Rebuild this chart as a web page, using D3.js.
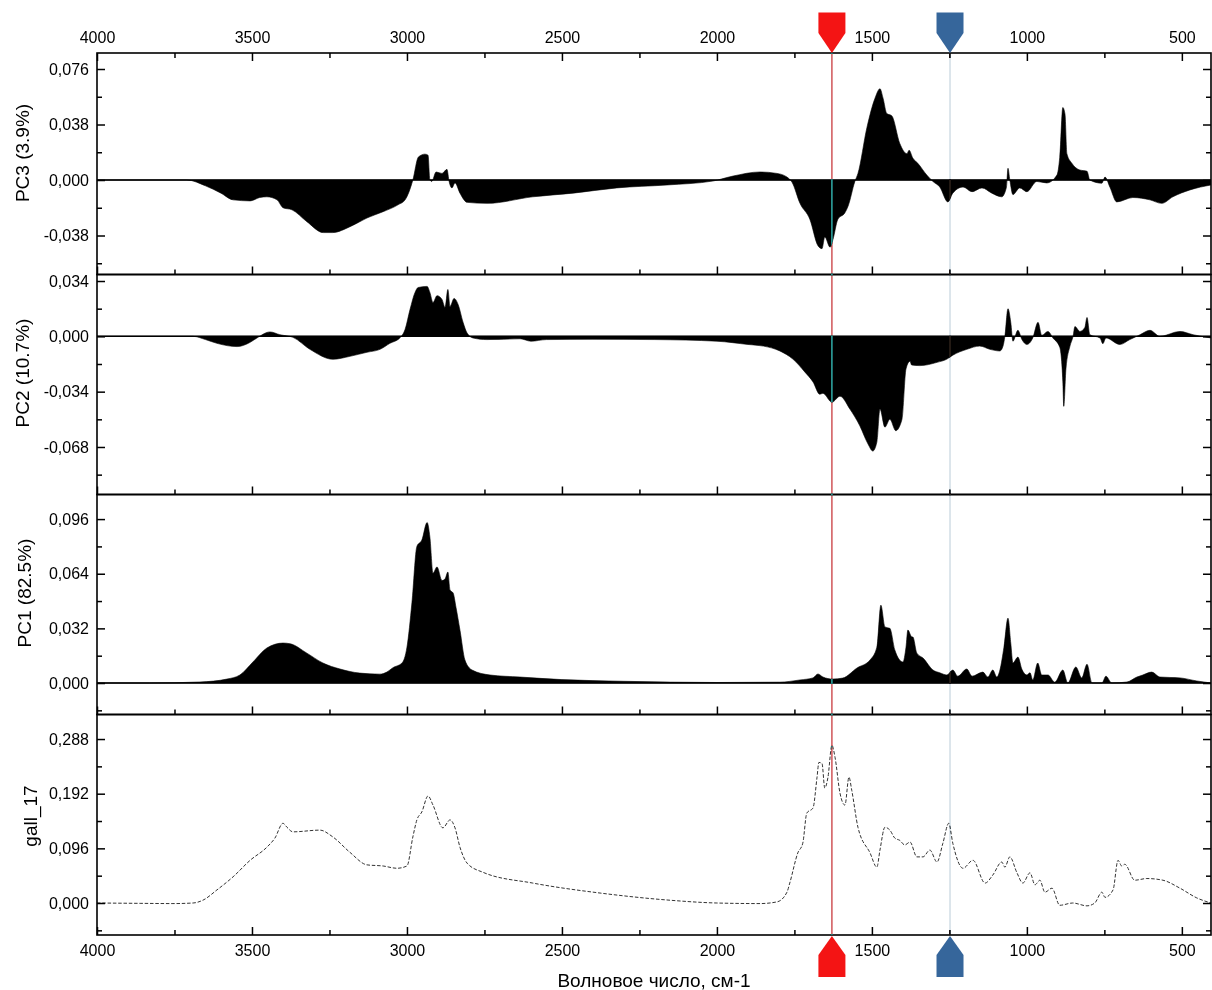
<!DOCTYPE html>
<html><head><meta charset="utf-8">
<script src="https://cdn.jsdelivr.net/npm/d3@7"></script>
<style>
html,body{margin:0;padding:0;background:#fff;}
svg{display:block;font-family:Arial,"Liberation Sans",sans-serif;isolation:isolate;}
</style></head><body>
<svg id="chart" width="1212" height="990"></svg>
<script>
// ---------------- data ----------------
const xTicksMajor = [4000,3500,3000,2500,2000,1500,1000,500];
const xTicksMinor = [3750,3250,2750,2250,1750,1250,750];
const xTitle = "Волновое число, см-1";

const pc3Label = "PC3 (3.9%)";
const pc3Ticks = [-0.038, 0, 0.038, 0.076];
const pc3Minor = [-0.057, -0.019, 0.019, 0.057];
const pc3 = [[4000,0],[3710,0],[3650,-0.004],[3600,-0.009],[3561,-0.0136],[3506,-0.0143],[3475,-0.012],[3452,-0.0115],[3419,-0.0136],[3400,-0.019],[3371,-0.0204],[3323,-0.0285],[3270,-0.036],[3239,-0.036],[3184,-0.032],[3129,-0.026],[3077,-0.0217],[3029,-0.017],[3006,-0.0136],[2981,0],[2963,0.0158],[2942,0.0177],[2932,0.017],[2926,0],[2920,-0.001],[2906,0.0055],[2887,0.0045],[2871,0.0073],[2864,-0.001],[2855,-0.0054],[2845,-0.002],[2829,-0.009],[2806,-0.0153],[2742,-0.016],[2594,-0.0115],[2464,-0.009],[2323,-0.0054],[2161,-0.0034],[2013,-0.0007],[1948,0.0027],[1861,0.0055],[1806,0.0045],[1774,0.002],[1758,-0.0014],[1732,-0.016],[1700,-0.027],[1674,-0.045],[1661,-0.047],[1652,-0.039],[1635,-0.046],[1626,-0.041],[1610,-0.027],[1587,-0.0224],[1577,-0.018],[1555,-0.001],[1545,0.0045],[1516,0.036],[1490,0.056],[1474,0.0625],[1464,0.056],[1452,0.0455],[1436,0.044],[1410,0.025],[1387,0.018],[1380,0.0204],[1368,0.015],[1352,0.0115],[1323,0.0034],[1303,-0.001],[1281,-0.0048],[1255,-0.015],[1239,-0.009],[1206,-0.0048],[1177,-0.008],[1145,-0.0054],[1113,-0.009],[1081,-0.0115],[1066,-0.005],[1061,0.008],[1055,0],[1045,-0.01],[1023,-0.0054],[1000,-0.008],[968,-0.001],[936,-0.002],[903,0.0034],[894,0.0156],[884,0.0496],[877,0.045],[871,0.018],[855,0.0115],[829,0.0068],[806,0.006],[797,0],[758,-0.0022],[748,0.002],[732,-0.005],[710,-0.015],[658,-0.012],[603,-0.0136],[565,-0.016],[529,-0.0115],[474,-0.0068],[406,-0.0034]];

const pc2Label = "PC2 (10.7%)";
const pc2Ticks = [-0.068, -0.034, 0, 0.034];
const pc2Minor = [-0.085, -0.051, -0.017, 0.017];
const pc2 = [[4000,0],[3690,0],[3650,-0.002],[3613,-0.0043],[3548,-0.0063],[3506,-0.0037],[3484,-0.001],[3442,0.0027],[3410,0.001],[3368,-0.0006],[3313,-0.008],[3239,-0.0141],[3184,-0.0123],[3129,-0.0098],[3087,-0.008],[3055,-0.0043],[3023,-0.001],[3006,0.0043],[2990,0.0166],[2974,0.027],[2964,0.030],[2935,0.0307],[2926,0.027],[2916,0.0208],[2903,0.025],[2887,0.0227],[2877,0.0178],[2868,0.0288],[2861,0.0184],[2848,0.0233],[2835,0.0196],[2819,0.0086],[2806,0.002],[2787,-0.001],[2742,-0.002],[2635,-0.0015],[2600,-0.003],[2550,-0.002],[2400,-0.0018],[2200,-0.002],[2000,-0.003],[1900,-0.005],[1850,-0.006],[1797,-0.009],[1755,-0.014],[1716,-0.022],[1690,-0.028],[1668,-0.0356],[1658,-0.035],[1629,-0.0405],[1603,-0.0368],[1571,-0.0447],[1539,-0.055],[1513,-0.066],[1497,-0.0705],[1484,-0.065],[1474,-0.0447],[1458,-0.0558],[1442,-0.051],[1423,-0.058],[1403,-0.051],[1390,-0.020],[1377,-0.0153],[1372,-0.0176],[1345,-0.018],[1290,-0.016],[1258,-0.014],[1239,-0.0116],[1194,-0.008],[1152,-0.006],[1119,-0.008],[1087,-0.009],[1077,-0.006],[1071,0],[1061,0.017],[1052,0.0086],[1045,-0.003],[1029,0.0037],[1016,-0.002],[1000,-0.005],[981,-0.001],[964,0.0086],[952,0.0006],[932,0.003],[916,-0.001],[894,-0.0067],[884,-0.028],[881,-0.043],[874,-0.02],[861,-0.006],[851,0],[845,0.006],[829,0.003],[813,0.0055],[806,0.0116],[797,0.001],[764,-0.001],[755,-0.0045],[745,-0.001],[700,-0.005],[668,-0.002],[635,0.001],[603,0.0037],[571,0],[506,0.003],[464,0.001],[406,-0.001]];

const pc1Label = "PC1 (82.5%)";
const pc1Ticks = [0, 0.032, 0.064, 0.096];
const pc1Minor = [-0.016, 0.016, 0.048, 0.080];
const pc1 = [[4000,0],[3830,0],[3668,0.0006],[3581,0.0023],[3539,0.0047],[3497,0.0123],[3452,0.0205],[3400,0.0234],[3377,0.023],[3323,0.0175],[3271,0.0117],[3216,0.0082],[3152,0.0058],[3087,0.0052],[3065,0.0064],[3045,0.0090],[3016,0.0117],[3000,0.021],[2984,0.047],[2968,0.08],[2952,0.0837],[2935,0.094],[2926,0.0854],[2916,0.0643],[2903,0.068],[2887,0.06],[2877,0.061],[2868,0.065],[2861,0.0544],[2851,0.0527],[2842,0.0445],[2829,0.031],[2813,0.0135],[2790,0.0076],[2732,0.0047],[2635,0.0035],[2500,0.002],[2300,0.001],[2000,0.0003],[1797,0.0005],[1732,0.0018],[1690,0.003],[1674,0.0053],[1658,0.0035],[1626,0.0023],[1594,0.0029],[1548,0.0088],[1506,0.0135],[1484,0.021],[1471,0.0456],[1458,0.0328],[1442,0.032],[1426,0.0193],[1400,0.0123],[1390,0.021],[1384,0.031],[1371,0.027],[1368,0.027],[1355,0.0175],[1335,0.0146],[1303,0.0076],[1281,0.006],[1258,0.0047],[1239,0.0076],[1223,0.004],[1194,0.0082],[1177,0.004],[1142,0.0064],[1126,0.0035],[1110,0.0076],[1097,0.0035],[1087,0.0076],[1074,0.021],[1061,0.038],[1052,0.0234],[1045,0.0117],[1029,0.0152],[1016,0.008],[1000,0.0047],[990,0.006],[981,0.0018],[965,0.0117],[952,0.0047],[932,0.0047],[910,0.0005],[884,0.0076],[868,0],[842,0.0094],[823,0.003],[806,0.011],[790,0],[758,0],[745,0.004],[726,0],[677,0.0006],[645,0.0035],[626,0.0047],[597,0.0064],[571,0.0035],[506,0.003],[452,0.0012],[406,0]];

const gallLabel = "gall_17";
const gallTicks = [0, 0.096, 0.192, 0.288];
const gallMinor = [-0.048, 0.048, 0.144, 0.240];
const gall17 = [[4000,0],[3861,-0.0006],[3755,-0.001],[3690,0],[3658,0.005],[3613,0.023],[3561,0.046],[3506,0.075],[3452,0.098],[3426,0.114],[3400,0.14],[3387,0.133],[3368,0.125],[3281,0.128],[3239,0.116],[3184,0.089],[3129,0.067],[3077,0.065],[3032,0.061],[3000,0.065],[2981,0.116],[2968,0.146],[2952,0.16],[2932,0.188],[2916,0.172],[2884,0.132],[2861,0.146],[2845,0.132],[2829,0.098],[2806,0.07],[2755,0.054],[2594,0.035],[2377,0.0175],[2161,0.0053],[2000,0],[1861,-0.001],[1806,0.002],[1774,0.019],[1765,0.035],[1739,0.088],[1723,0.105],[1710,0.158],[1690,0.167],[1677,0.221],[1671,0.247],[1661,0.245],[1652,0.202],[1642,0.22],[1629,0.277],[1619,0.256],[1603,0.193],[1587,0.172],[1574,0.221],[1565,0.198],[1545,0.133],[1506,0.088],[1484,0.063],[1474,0.093],[1458,0.133],[1442,0.128],[1426,0.114],[1410,0.11],[1394,0.102],[1377,0.107],[1355,0.081],[1335,0.081],[1313,0.093],[1290,0.072],[1271,0.105],[1252,0.14],[1239,0.105],[1206,0.061],[1174,0.075],[1135,0.035],[1110,0.049],[1081,0.072],[1071,0.063],[1055,0.081],[1032,0.053],[1013,0.035],[990,0.053],[974,0.032],[958,0.04],[942,0.019],[919,0.026],[894,-0.004],[852,0],[806,-0.005],[781,0],[758,0.019],[748,0.01],[722,0.023],[706,0.075],[694,0.065],[684,0.068],[652,0.04],[613,0.043],[561,0.04],[506,0.026],[452,0.009],[406,0]];

const markerWavenumbers = [1629, 1248];
const markerColors = ["#f41414", "#36669b"];
const markerLineColors = ["#3cd7d2", "#3a2c21"]; // drawn in difference mode (XOR-like)

// ---------------- layout ----------------
const L = 97, R = 1211;
const svg = d3.select("#chart");
svg.append("rect").attr("width",1212).attr("height",990).attr("fill","#fff");

const x = d3.scaleLinear().domain([4000, 406]).range([L, R]);

const panels = [
  {label: pc3Label, data: pc3, major: pc3Ticks, minor: pc3Minor, top: 53, bottom: 274.5, domain: [-0.0647, 0.08696], type: "area", lx: 29, ly: 153},
  {label: pc2Label, data: pc2, major: pc2Ticks, minor: pc2Minor, top: 274.5, bottom: 494.5, domain: [-0.0972, 0.0380], type: "area", lx: 29, ly: 373},
  {label: pc1Label, data: pc1, major: pc1Ticks, minor: pc1Minor, top: 494.5, bottom: 714.5, domain: [-0.01844, 0.1104], type: "area", lx: 31, ly: 593},
  {label: gallLabel, data: gall17, major: gallTicks, minor: gallMinor, top: 714.5, bottom: 935, domain: [-0.0562, 0.3311], type: "line", lx: 37, ly: 816}
];

const fmt = v => d3.format(".3f")(v).replace(".", ",").replace("\u2212", "-");
const FONT = "Arial, 'Liberation Sans', sans-serif";

function styleAxis(g, size) {
  g.select(".domain").remove();
  g.selectAll("line").attr("stroke", "#000").attr("stroke-width", 1.5);
  g.selectAll("text").attr("font-size", size).attr("font-family", FONT).attr("fill", "#000");
}

panels.forEach((p, i) => {
  const y = d3.scaleLinear().domain(p.domain).range([p.bottom, p.top]);
  const g = svg.append("g");
  const clipId = "clip" + i;
  svg.append("clipPath").attr("id", clipId).append("rect")
    .attr("x", L).attr("y", p.top).attr("width", R - L).attr("height", p.bottom - p.top);

  if (p.type === "area") {
    g.append("path").datum(p.data)
      .attr("clip-path", `url(#${clipId})`)
      .attr("fill", "#000").attr("stroke", "#000").attr("stroke-width", 0.6)
      .attr("d", d3.area().curve(d3.curveMonotoneX).x(d => x(d[0])).y0(y(0)).y1(d => y(d[1])));
    g.append("line").attr("x1", L).attr("x2", R).attr("y1", y(0)).attr("y2", y(0))
      .attr("stroke", "#000").attr("stroke-width", 1.5);
  } else {
    g.append("path").datum(p.data)
      .attr("clip-path", `url(#${clipId})`)
      .attr("fill", "none").attr("stroke", "#333").attr("stroke-width", 1)
      .attr("stroke-dasharray", "3.5 1.8")
      .attr("d", d3.line().curve(d3.curveMonotoneX).x(d => x(d[0])).y(d => y(d[1])));
  }

  // left axis
  g.append("g").attr("transform", `translate(${L},0)`)
    .call(d3.axisLeft(y).tickValues(p.major).tickSize(-8).tickPadding(8).tickFormat(fmt))
    .call(a => styleAxis(a, 16));
  g.append("g").attr("transform", `translate(${L},0)`)
    .call(d3.axisLeft(y).tickValues(p.minor).tickSize(-5).tickFormat(""))
    .call(a => styleAxis(a, 16));
  // right axis
  g.append("g").attr("transform", `translate(${R},0)`)
    .call(d3.axisRight(y).tickValues(p.major).tickSize(-8).tickFormat(""))
    .call(a => styleAxis(a, 16));
  g.append("g").attr("transform", `translate(${R},0)`)
    .call(d3.axisRight(y).tickValues(p.minor).tickSize(-5).tickFormat(""))
    .call(a => styleAxis(a, 16));
  // bottom axis
  const last = i === panels.length - 1;
  g.append("g").attr("transform", `translate(0,${p.bottom})`)
    .call(d3.axisBottom(x).tickValues(xTicksMajor).tickSize(-8).tickPadding(10)
      .tickFormat(last ? d3.format("d") : ""))
    .call(a => styleAxis(a, 16));
  g.append("g").attr("transform", `translate(0,${p.bottom})`)
    .call(d3.axisBottom(x).tickValues(xTicksMinor).tickSize(-5).tickFormat(""))
    .call(a => styleAxis(a, 16));
  if (i === 0) {
    g.append("g").attr("transform", `translate(0,${p.top})`)
      .call(d3.axisTop(x).tickValues(xTicksMajor).tickSize(-8).tickPadding(10).tickFormat(d3.format("d")))
      .call(a => styleAxis(a, 16));
    g.append("g").attr("transform", `translate(0,${p.top})`)
      .call(d3.axisTop(x).tickValues(xTicksMinor).tickSize(-5).tickFormat(""))
      .call(a => styleAxis(a, 16));
  }
  // frame
  g.append("rect").attr("x", L).attr("y", p.top).attr("width", R - L).attr("height", p.bottom - p.top)
    .attr("fill", "none").attr("stroke", "#000").attr("stroke-width", 1.6);

  // y title
  svg.append("text")
    .attr("transform", `translate(${p.lx},${p.ly}) rotate(-90)`)
    .attr("text-anchor", "middle")
    .attr("font-family", FONT).attr("font-size", 19).attr("fill", "#000")
    .text(p.label);
});

// x title
svg.append("text").attr("x", 654).attr("y", 987).attr("text-anchor", "middle")
  .attr("font-family", FONT).attr("font-size", 19).attr("fill", "#000").text(xTitle);

// marker lines (difference blend to mimic XOR drawing)
const topY = panels[0].top, botY = panels[panels.length - 1].bottom;
markerWavenumbers.forEach((w, k) => {
  svg.append("line").attr("x1", x(w)).attr("x2", x(w)).attr("y1", topY).attr("y2", botY)
    .attr("stroke", markerLineColors[k]).attr("stroke-width", 1.2)
    .style("mix-blend-mode", "difference");
});
// marker arrows
markerWavenumbers.forEach((w, k) => {
  const cx = x(w), hw = 13.5;
  const topPts = [[cx - hw, 12.5], [cx + hw, 12.5], [cx + hw, 33], [cx, topY], [cx - hw, 33]];
  const botPts = [[cx - hw, 977], [cx + hw, 977], [cx + hw, 955], [cx, botY + 1], [cx - hw, 955]];
  [topPts, botPts].forEach(pts => {
    svg.append("polygon").attr("points", pts.map(q => q.join(",")).join(" "))
      .attr("fill", markerColors[k]);
  });
});
</script>
</body></html>
